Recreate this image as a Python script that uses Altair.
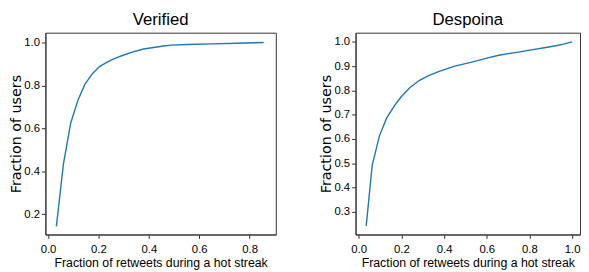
import altair as alt
import pandas as pd

# Verified panel data (CDF)
ver_x = [0.033, 0.061, 0.090, 0.119, 0.146, 0.176, 0.204, 0.233, 0.263, 0.300,
         0.341, 0.380, 0.419, 0.458, 0.490, 0.550, 0.650, 0.750, 0.856]
ver_y = [0.143, 0.433, 0.625, 0.732, 0.805, 0.855, 0.888, 0.908, 0.925, 0.942,
         0.958, 0.970, 0.977, 0.984, 0.988, 0.991, 0.994, 0.997, 1.000]

# Despoina panel data
des_x = [0.035, 0.063, 0.097, 0.131, 0.170, 0.200, 0.240, 0.285, 0.330, 0.377,
         0.450, 0.530, 0.600, 0.662, 0.740, 0.816, 0.870, 0.924, 0.960, 1.000]
des_y = [0.242, 0.491, 0.613, 0.687, 0.741, 0.775, 0.812, 0.842, 0.862, 0.879,
         0.900, 0.917, 0.933, 0.946, 0.957, 0.968, 0.976, 0.984, 0.991, 1.000]

titles = ["Verified", "Despoina"]
x_label = "Fraction of retweets during a hot streak"
y_label = "Fraction of users"
ver_xticks = [0.0, 0.2, 0.4, 0.6, 0.8]
ver_yticks = [0.2, 0.4, 0.6, 0.8, 1.0]
des_xticks = [0.0, 0.2, 0.4, 0.6, 0.8, 1.0]
des_yticks = [0.3, 0.4, 0.5, 0.6, 0.7, 0.8, 0.9, 1.0]

FONT = "Liberation Sans"


def panel(x, y, title, xdom, ydom, xticks, yticks, w):
    df = pd.DataFrame({"x": x, "y": y})
    return alt.Chart(df).mark_line(color="#1f77b4", strokeWidth=1.4).encode(
        x=alt.X("x:Q", scale=alt.Scale(domain=xdom, nice=False, zero=False),
                axis=alt.Axis(values=xticks, format=".1f", title=x_label)),
        y=alt.Y("y:Q", scale=alt.Scale(domain=ydom, nice=False, zero=False),
                axis=alt.Axis(values=yticks, format=".1f", title=y_label)),
    ).properties(width=w, height=205, title=title)


left = panel(ver_x, ver_y, titles[0], [-0.0105, 0.904], [0.105, 1.046],
             ver_xticks, ver_yticks, 234)
right = panel(des_x, des_y, titles[1], [-0.015, 1.037], [0.2065, 1.038],
              des_xticks, des_yticks, 228)

chart = alt.hconcat(left, right, spacing=42).properties(
    padding={"left": 0, "top": 0, "right": 0, "bottom": 0}
).configure_axis(
    domainColor="#333", domainWidth=1, tickColor="#333", tickSize=4,
    labelFont=FONT, labelFontSize=11.5, labelColor="black",
    labelFlush=False, labelOverlap=False, grid=False,
    titleColor="black", titleFontWeight="normal",
).configure_axisX(
    titleFont=FONT, titleFontSize=12.5, titlePadding=2, labelPadding=5,
).configure_axisY(
    titleFont="DejaVu Sans", titleFontSize=14.5, titlePadding=0, labelPadding=2,
).configure_title(
    font=FONT, fontSize=17, fontWeight="normal", color="black", offset=4,
).configure_view(
    stroke="#333", strokeWidth=1,
)

chart.save("out.html", embed_options={"renderer": "svg", "actions": False})
